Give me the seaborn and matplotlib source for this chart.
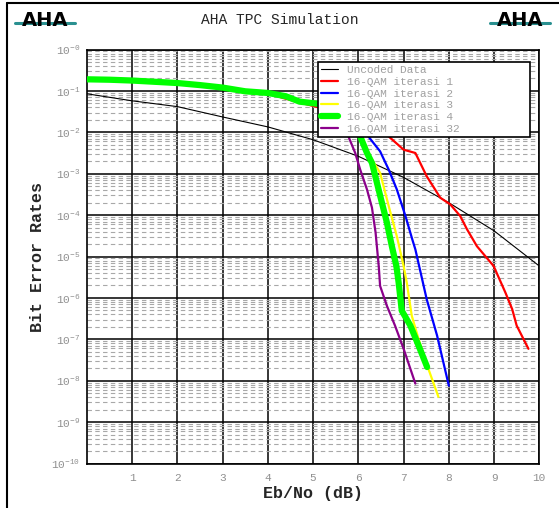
import numpy as np
import pandas as pd
import matplotlib
matplotlib.use("Agg")
import matplotlib.pyplot as plt
from matplotlib.lines import Line2D
from matplotlib.ticker import LogLocator, NullFormatter
import seaborn as sns

# Eb/No (dB) and log10(BER)
uncoded_x = [0, 1, 2, 3, 4, 5, 6, 7, 8, 9, 10]
uncoded_log = [-1.07, -1.24, -1.38, -1.63, -1.87, -2.18, -2.58, -3.09, -3.70, -4.38, -5.23]

# common high-BER part of the turbo curves (mostly hidden under the green one)
head_x = [0, 0.5, 1, 1.5, 2, 2.5, 3, 3.5, 4]
head_log = [-0.72, -0.73, -0.75, -0.78, -0.81, -0.86, -0.92, -1.01, -1.05]

it1_x = [4.3, 4.7, 5.2, 5.7, 6.2, 6.67, 7.0, 7.26, 7.51, 7.81, 8.03, 8.25, 8.40, 8.62, 8.99, 9.25, 9.40, 9.50, 9.76]
it1_log = [-1.16, -1.28, -1.42, -1.6, -1.85, -2.10, -2.42, -2.50, -3.06, -3.58, -3.74, -4.02, -4.34, -4.75, -5.23, -5.87, -6.27, -6.67, -7.23]

it2_x = [4.4, 4.7, 5.1, 5.5, 5.9, 6.22, 6.48, 6.67, 6.85, 7.04, 7.19, 7.26, 7.51, 7.74, 8.0]
it2_log = [-1.13, -1.26, -1.31, -1.6, -1.85, -2.10, -2.46, -2.90, -3.38, -4.02, -4.58, -4.83, -6.03, -6.91, -8.12]

it3_x = [4.4, 4.7, 5.1, 5.5, 5.85, 6.08, 6.26, 6.48, 6.67, 6.85, 7.0, 7.07, 7.18, 7.33, 7.52, 7.77]
it3_log = [-1.13, -1.26, -1.31, -1.55, -1.85, -2.10, -2.58, -2.98, -3.78, -4.51, -5.23, -5.63, -6.43, -6.99, -7.63, -8.39]

it4_x = [4.4, 4.7, 5.1, 5.5, 5.8, 6.04, 6.19, 6.30, 6.41, 6.52, 6.63, 6.74, 6.84, 6.89, 6.96, 7.15, 7.33, 7.52]
it4_log = [-1.13, -1.26, -1.31, -1.55, -1.8, -2.10, -2.50, -2.74, -3.22, -3.70, -4.18, -4.75, -5.23, -5.63, -6.31, -6.67, -7.15, -7.67]

it32_x = [4.4, 4.7, 5.0, 5.3, 5.6, 5.78, 5.93, 6.04, 6.19, 6.30, 6.38, 6.45, 6.48, 6.63, 6.81, 7.0, 7.26]
it32_log = [-1.13, -1.26, -1.30, -1.5, -1.8, -2.10, -2.50, -2.90, -3.38, -3.82, -4.42, -5.23, -5.71, -6.19, -6.67, -7.23, -8.07]

labels = ["Uncoded Data", "16-QAM iterasi 1", "16-QAM iterasi 2",
          "16-QAM iterasi 3", "16-QAM iterasi 4", "16-QAM iterasi 32"]
colors = ["black", "#ff0000", "#0000ff", "#ffff00", "#00ff00", "#8b008b"]
widths = [0.8, 1.6, 1.6, 1.6, 4.5, 1.6]
zorders = [3, 3, 3, 3, 5, 4]

series = [
    (uncoded_x, uncoded_log),
    (head_x + it1_x, head_log + it1_log),
    (head_x + it2_x, head_log + it2_log),
    (head_x + it3_x, head_log + it3_log),
    (head_x + it4_x, head_log + it4_log),
    (head_x + it32_x, head_log + it32_log),
]

sns.set_style("white")
plt.rcParams['font.family'] = ['Liberation Mono', 'DejaVu Sans']

fig = plt.figure(figsize=(5.59, 5.08), dpi=100)
ax = fig.add_axes([87 / 559, 1 - 463.5 / 508, (539.3 - 87) / 559, (463.5 - 49.5) / 508])

for (xs, ls), lab, c, w, z in zip(series, labels, colors, widths, zorders):
    df = pd.DataFrame({"ebno": xs, "ber": np.power(10.0, ls)})
    sns.lineplot(data=df, x="ebno", y="ber", ax=ax, color=c, lw=w, label=lab,
                 sort=False, estimator=None, zorder=z)

ax.set_yscale("log")
ax.set_xlim(0, 10)
ax.set_ylim(1e-10, 1)

ax.set_xticks(range(1, 11))
ax.set_xticklabels([str(i) for i in range(1, 11)], color="#909090", fontsize=8)
decades = list(range(0, 11))
ax.set_yticks([10.0 ** -k for k in decades])
ax.set_yticklabels([r"$\mathregular{10^{-%d}}$" % k for k in decades], color="#909090", fontsize=8)
ax.yaxis.set_minor_locator(LogLocator(base=10, subs=np.arange(2, 10), numticks=100))
ax.yaxis.set_minor_formatter(NullFormatter())
ax.tick_params(which="both", length=0)
ax.tick_params(axis="x", pad=7)
ax.tick_params(axis="y", pad=5)

ax.grid(True, which="major", axis="both", color="black", lw=1.1, ls="-")
ax.grid(True, which="minor", axis="y", color="#a8a8a8", lw=0.8, ls=(0, (4, 3)))
ax.set_axisbelow(True)
for sp in ax.spines.values():
    sp.set_color("black")
    sp.set_linewidth(1.2)

ax.set_xlabel("Eb/No (dB)", fontsize=12, fontweight="bold", labelpad=2)
ax.set_ylabel("Bit Error Rates", fontsize=12, fontweight="bold", labelpad=4)

leg = ax.legend(loc="upper left", bbox_to_anchor=(0.511, 0.97, 0.468, 0.0), mode="expand",
                fancybox=False, framealpha=1, edgecolor="black", fontsize=8,
                labelspacing=0.15, handlelength=1.5, handletextpad=0.8,
                borderpad=0.3, borderaxespad=0)
leg.get_frame().set_linewidth(1.2)
for t in leg.get_texts():
    t.set_color("#a0a0a0")
leg.set_zorder(10)

fig.text(0.5, 1 - 20 / 508, "AHA TPC Simulation", ha="center", va="center", fontsize=10.5)

# AHA logos
for cx in (45 / 559, 520 / 559):
    fig.add_artist(Line2D([cx - 30 / 559, cx + 30 / 559], [1 - 23 / 508, 1 - 23 / 508],
                          transform=fig.transFigure, color="#2a9090", lw=2.2))
    fig.text(cx, 1 - 20 / 508, "AHA", ha="center", va="center", fontsize=14,
             fontweight="bold", family="DejaVu Sans", color="black")

# border on the left and top of the picture
fig.add_artist(Line2D([7 / 559, 7 / 559], [0, 1 - 3 / 508], transform=fig.transFigure, color="black", lw=1.5))
fig.add_artist(Line2D([7 / 559, 1], [1 - 3 / 508, 1 - 3 / 508], transform=fig.transFigure, color="black", lw=1.5))

fig.savefig("out.png", dpi=100)
plt.close(fig)
